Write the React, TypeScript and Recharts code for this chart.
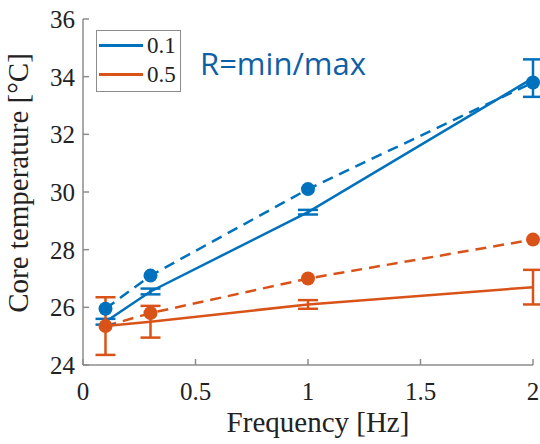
import React from "react";
import {
  LineChart,
  Line,
  XAxis,
  YAxis,
  ErrorBar,
  Legend,
} from "recharts";

const frequencies = [0.1, 0.3, 1, 2];

// R = 0.1
const blueMean = [25.5, 26.55, 29.3, 33.95];
const blueErr = [0.1, 0.1, 0.08, 0.65];
const blueFit = [25.95, 27.1, 30.1, 33.8];

// R = 0.5
const orangeMean = [25.35, 25.5, 26.1, 26.7];
const orangeErr = [1.0, 0.55, 0.15, 0.6];
const orangeFit = [25.35, 25.8, 27.0, 28.35];

const xTicks = [0, 0.5, 1, 1.5, 2];
const yTicks = [24, 26, 28, 30, 32, 34, 36];

const legendItems = [
  { label: "0.1", color: "#0072BD" },
  { label: "0.5", color: "#D95319" },
];

const BLUE = "#0072BD";
const ORANGE = "#D95319";
const AXIS = "#8c8c8c";
const SERIF = "'Liberation Serif', 'DejaVu Serif', serif";

const data = frequencies.map((f, i) => ({
  f,
  blueMean: blueMean[i],
  blueErr: blueErr[i],
  blueFit: blueFit[i],
  orangeMean: orangeMean[i],
  orangeErr: orangeErr[i],
  orangeFit: orangeFit[i],
}));

function LegendBox() {
  return (
    <div
      style={{
        width: 83,
        height: 60,
        border: "1px solid #8c8c8c",
        background: "#fff",
        fontFamily: SERIF,
        fontSize: 23,
        color: "#222",
      }}
    >
      {legendItems.map((it) => (
        <div key={it.label} style={{ display: "flex", alignItems: "center", height: 29, paddingLeft: 2 }}>
          <div style={{ width: 44, height: 3, background: it.color, marginRight: 4 }} />
          <span>{it.label}</span>
        </div>
      ))}
    </div>
  );
}

export default function App() {
  return (
    <div style={{ position: "absolute", left: 0, top: 0, width: 540, height: 444, background: "#fff" }}>
      <LineChart width={540} height={444} data={data} margin={{ top: 19, right: 7, left: 0, bottom: 0 }}>
        <XAxis
          dataKey="f"
          type="number"
          domain={[0, 2]}
          ticks={xTicks}
          height={79}
          tickSize={-6}
          tickMargin={23}
          stroke={AXIS}
          strokeWidth={1.5}
          tick={{ fill: "#222", fontSize: 25, fontFamily: SERIF }}
          label={() => (
            <text x={318} y={432} textAnchor="middle" fill="#222" fontSize={29} fontFamily={SERIF}>
              Frequency [Hz]
            </text>
          )}
        />
        <YAxis
          type="number"
          domain={[24, 36]}
          ticks={yTicks}
          width={83}
          tickSize={-6}
          tickMargin={14}
          stroke={AXIS}
          strokeWidth={1.5}
          tick={{ fill: "#222", fontSize: 25, fontFamily: SERIF }}
          label={() => (
            <text
              x={28}
              y={183}
              transform="rotate(-90 28 183)"
              textAnchor="middle"
              fill="#222"
              fontSize={29}
              fontFamily={SERIF}
            >
              Core temperature [°C]
            </text>
          )}
        />
        <Legend
          layout="vertical"
          align="center"
          verticalAlign="middle"
          wrapperStyle={{ left: 96, top: 30, width: 85, height: 62 }}
          content={() => <LegendBox />}
        />
        <Line
          dataKey="blueFit"
          type="linear"
          stroke={BLUE}
          strokeWidth={2.5}
          strokeDasharray="11 7"
          dot={{ r: 7, fill: BLUE, stroke: BLUE, strokeWidth: 0 }}
          activeDot={false}
          isAnimationActive={false}
        />
        <Line
          dataKey="orangeFit"
          type="linear"
          stroke={ORANGE}
          strokeWidth={2.5}
          strokeDasharray="11 7"
          dot={{ r: 7, fill: ORANGE, stroke: ORANGE, strokeWidth: 0 }}
          activeDot={false}
          isAnimationActive={false}
        />
        <Line
          dataKey="blueMean"
          type="linear"
          stroke={BLUE}
          strokeWidth={2.5}
          dot={false}
          activeDot={false}
          isAnimationActive={false}
        >
          <ErrorBar dataKey="blueErr" direction="y" width={10} stroke={BLUE} strokeWidth={2.5} isAnimationActive={false} />
        </Line>
        <Line
          dataKey="orangeMean"
          type="linear"
          stroke={ORANGE}
          strokeWidth={2.5}
          dot={false}
          activeDot={false}
          isAnimationActive={false}
        >
          <ErrorBar dataKey="orangeErr" direction="y" width={10} stroke={ORANGE} strokeWidth={2.5} isAnimationActive={false} />
        </Line>
      </LineChart>
      <div
        style={{
          position: "absolute",
          left: 200,
          top: 41,
          fontFamily: "'Open Sans', 'Noto Sans', sans-serif",
          fontSize: 31,
          color: "#0F5FA6",
          lineHeight: "44px",
          whiteSpace: "nowrap",
        }}
      >
        R=min/max
      </div>
    </div>
  );
}
